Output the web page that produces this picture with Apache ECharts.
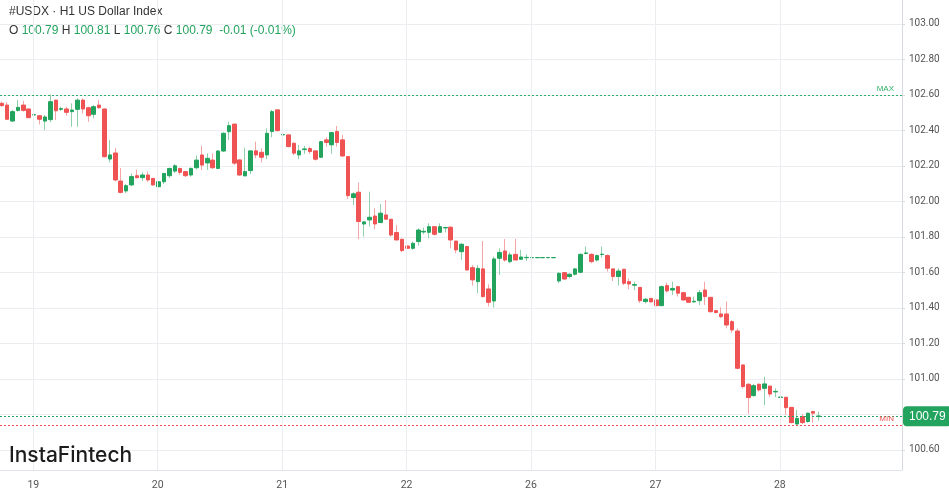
<!DOCTYPE html>
<html><head><meta charset="utf-8">
<script src="https://cdn.jsdelivr.net/npm/echarts@6/dist/echarts.min.js"></script>
<style>html,body{margin:0;padding:0;background:#fff}#c{width:949px;height:494px}</style>
</head><body><div id="c"></div>
<script>
// ---- data (H1 candles, index = hour slot) ----
const opens = [102.553,102.543,102.453,102.513,102.543,102.521,102.487,102.483,102.453,102.461,
102.571,102.519,102.521,102.506,102.519,102.571,102.528,102.491,102.543,102.521,
102.239,102.273,102.115,102.059,102.093,102.145,102.134,102.149,102.130,102.083,
102.111,102.145,102.171,102.186,102.168,102.149,102.190,102.262,102.217,102.233,
102.186,102.284,102.393,102.436,102.234,102.144,102.174,102.285,102.277,102.262,
102.394,102.516,102.375,102.375,102.328,102.262,102.292,102.298,102.285,102.249,
102.347,102.319,102.394,102.347,102.253,102.022,102.052,101.873,101.896,101.918,
101.881,101.924,101.900,101.825,101.787,101.749,101.736,101.774,101.828,101.826,
101.858,101.826,101.851,101.855,101.777,101.717,101.746,101.627,101.548,101.620,
101.507,101.439,101.680,101.721,101.661,101.702,101.674,101.683,101.683,101.683,
101.683,101.683,101.683,101.552,101.599,101.577,101.590,101.601,101.707,101.702,
101.670,101.701,101.695,101.620,101.577,101.618,101.548,101.528,101.516,101.436,
101.454,101.445,101.413,101.526,101.501,101.520,101.486,101.460,101.434,101.441,
101.501,101.460,101.385,101.366,101.366,101.323,101.270,101.079,100.970,100.906,
100.970,100.947,100.960,100.927,100.896,100.897,100.840,100.746,100.788,100.760,
100.816,100.789];
const closes = [102.540,102.463,102.506,102.530,102.513,102.472,102.489,102.463,102.476,102.562,
102.511,102.523,102.502,102.515,102.571,102.521,102.483,102.534,102.528,102.252,
102.262,102.121,102.051,102.089,102.140,102.134,102.149,102.121,102.093,102.111,
102.158,102.186,102.201,102.164,102.145,102.186,102.233,102.205,102.243,102.190,
102.284,102.384,102.427,102.216,102.149,102.168,102.285,102.262,102.249,102.384,
102.506,102.399,102.377,102.309,102.272,102.285,102.296,102.281,102.238,102.337,
102.332,102.388,102.332,102.256,102.033,102.043,101.887,101.885,101.911,101.873,
101.934,101.900,101.811,101.783,101.723,101.736,101.764,101.839,101.832,101.858,
101.815,101.858,101.853,101.783,101.727,101.759,101.614,101.558,101.623,101.464,
101.432,101.676,101.713,101.670,101.699,101.670,101.687,101.685,101.684,101.684,
101.684,101.684,101.684,101.595,101.563,101.590,101.620,101.702,101.710,101.661,
101.695,101.703,101.624,101.577,101.608,101.539,101.535,101.532,101.441,101.449,
101.434,101.413,101.520,101.496,101.510,101.483,101.445,101.432,101.438,101.486,
101.464,101.379,101.374,101.351,101.304,101.276,101.060,100.957,100.895,100.962,
100.938,100.972,100.915,100.930,100.898,100.838,100.754,100.778,100.754,100.807,
100.807,100.791];
const lows = [102.534,102.460,102.449,102.506,102.506,102.470,102.485,102.434,102.402,102.446,
102.459,102.510,102.483,102.421,102.421,102.496,102.449,102.468,102.524,102.248,
102.220,102.113,102.045,102.046,102.087,102.130,102.115,102.110,102.088,102.080,
102.098,102.132,102.160,102.150,102.138,102.140,102.180,102.177,102.177,102.183,
102.183,102.280,102.346,102.205,102.144,102.144,102.155,102.243,102.219,102.238,
102.362,102.394,102.362,102.305,102.262,102.238,102.268,102.268,102.230,102.245,
102.309,102.268,102.309,102.253,102.014,101.980,101.787,101.802,101.858,101.843,
101.881,101.900,101.802,101.783,101.716,101.732,101.727,101.751,101.815,101.793,
101.808,101.826,101.826,101.736,101.708,101.670,101.610,101.526,101.483,101.458,
101.408,101.402,101.586,101.661,101.652,101.670,101.670,101.665,101.683,101.683,
101.683,101.683,101.683,101.539,101.558,101.567,101.582,101.595,101.702,101.652,
101.661,101.684,101.605,101.552,101.526,101.529,101.505,101.500,101.428,101.426,
101.432,101.410,101.410,101.486,101.473,101.464,101.440,101.428,101.430,101.417,
101.417,101.374,101.370,101.342,101.285,101.261,101.054,100.947,100.803,100.900,
100.929,100.853,100.900,100.897,100.853,100.797,100.750,100.741,100.746,100.754,
100.754,100.765];
const highs = [102.562,102.560,102.515,102.571,102.566,102.523,102.492,102.485,102.487,102.603,
102.573,102.534,102.534,102.553,102.581,102.581,102.534,102.543,102.571,102.523,
102.346,102.301,102.188,102.098,102.158,102.180,102.164,102.170,102.132,102.113,
102.160,102.190,102.210,102.190,102.170,102.192,102.260,102.314,102.271,102.271,
102.290,102.390,102.449,102.438,102.236,102.303,102.285,102.337,102.300,102.412,
102.516,102.518,102.380,102.377,102.332,102.318,102.313,102.309,102.285,102.341,
102.362,102.392,102.425,102.375,102.253,102.052,102.106,101.887,102.055,101.962,
101.986,102.008,101.900,101.868,101.790,101.752,101.774,101.849,101.853,101.877,
101.860,101.877,101.858,101.860,101.777,101.764,101.750,101.642,101.642,101.777,
101.533,101.689,101.736,101.789,101.714,101.789,101.727,101.702,101.684,101.684,
101.684,101.684,101.684,101.601,101.599,101.595,101.623,101.708,101.746,101.708,
101.702,101.746,101.702,101.620,101.623,101.618,101.567,101.548,101.516,101.456,
101.456,101.447,101.526,101.543,101.548,101.523,101.490,101.462,101.464,101.501,
101.548,101.460,101.387,101.404,101.436,101.332,101.285,101.079,100.976,100.972,
100.976,101.013,100.960,100.947,100.900,100.897,100.840,100.825,100.803,100.810,
100.821,100.816];

const dayLabels = ['19','20','21','22','26','27','28'];
const dayPositions = [5.84, 28.84, 51.84, 74.84, 97.84, 120.84, 143.84];
const priceTicks = [100.6,100.8,101.0,101.2,101.4,101.6,101.8,102.0,102.2,102.4,102.6,102.8,103.0];
const priceLabelTicks = [100.6,101.0,101.2,101.4,101.6,101.8,102.0,102.2,102.4,102.6,102.8,103.0];

const headerTitle = '#USDX \u00b7 H1 US Dollar Index';
const headerKeys = ['O','H','L','C'];
const headerValues = ['100.79','100.81','100.76','100.79'];
const headerChange = '-0.01 (-0.01%)';
const lastPrice = 100.79;
const logoText = 'InstaFintech';

// ---- styles ----
const UP = '#22a35e', DOWN = '#f05353', UPW = '#8fd0aa', DOWNW = '#f5a5a5';
const GRID = '#ebedf0';
const AXISFONT = 'Roboto, "Liberation Sans", sans-serif';

const wickData = opens.map((o, i) => [i, o, closes[i], lows[i], highs[i]]);
const bodyData = opens.map((o, i) => [i, o, closes[i], Math.min(o, closes[i]), Math.max(o, closes[i])]);
const maxHigh = Math.max(...highs);
const minLow = Math.min(...lows);

let rich = '';
headerKeys.forEach((k, i) => { rich += '{k|' + k + '} {v|' + headerValues[i] + '} '; });
rich += ' {v|' + headerChange + '}';

function refLine(name, value, color, labelText, z) {
  return {
    type: 'line', name: name, data: [], z: z, silent: true, color: color,
    markLine: {
      silent: true, symbol: ['none', 'none'], animation: false,
      lineStyle: {color: color, type: [2, 2], width: 1, opacity: 1},
      label: {show: true, formatter: labelText, position: 'insideEndTop', color: color, fontSize: 8, distance: [8, 2]},
      data: [{yAxis: value}]
    }
  };
}

const chart = echarts.init(document.getElementById('c'), null, {renderer: 'canvas'});
chart.setOption({
  animation: false,
  backgroundColor: '#fff',
  grid: {left: 0, right: 47, top: 0, bottom: 24},
  xAxis: {
    type: 'value', min: -0.314, max: 166.42,
    axisLine: {show: true, onZero: false, lineStyle: {color: '#dfe2e6'}},
    axisTick: {show: false, customValues: dayPositions},
    axisLabel: {customValues: dayPositions, margin: 10, color: '#555', fontSize: 10.5,
      fontFamily: AXISFONT,
      formatter: v => { const k = dayPositions.findIndex(p => Math.abs(p - v) < 0.01); return k >= 0 ? dayLabels[k] : ''; }},
    splitLine: {show: false}
  },
  yAxis: {
    type: 'value', position: 'right', min: 100.487, max: 103.135, scale: true,
    axisLine: {show: true, onZero: false, lineStyle: {color: '#d6dade'}},
    axisTick: {show: true, length: 3, lineStyle: {color: '#d6dade'}, customValues: priceTicks},
    axisLabel: {customValues: priceLabelTicks, margin: 7, color: '#555', fontSize: 10,
      fontFamily: AXISFONT,
      formatter: v => v.toFixed(2)},
    splitLine: {show: true, lineStyle: {color: GRID}}
  },
  graphic: [
    {type: 'text', left: 9, top: 6, style: {text: headerTitle, font: '12px "Liberation Sans", Arial, sans-serif', fill: '#333'}},
    {type: 'text', left: 9, top: 25, style: {text: rich, font: '12px "Liberation Sans", Arial, sans-serif',
      rich: {k: {fill: '#333', fontSize: 12, fontFamily: '"Liberation Sans", Arial, sans-serif'},
             v: {fill: '#22a35e', fontSize: 12, fontFamily: '"Liberation Sans", Arial, sans-serif'}}}},
    {type: 'text', left: 9, top: 445, z: 10, style: {text: logoText, font: '500 21px Inter, "Open Sans", sans-serif', fill: '#1b1b1b'}}
  ],
  series: [
    {
      type: 'line', name: 'grid', data: [], z: 0, silent: true,
      markLine: {
        silent: true, symbol: ['none', 'none'], animation: false, label: {show: false},
        lineStyle: {color: GRID, type: 'solid', width: 1},
        data: dayPositions.map(p => ({xAxis: p}))
      }
    },
    refLine('maxLine', maxHigh, '#2fae69', 'MAX', 1),
    refLine('minLine', minLow, '#f05353', 'MIN', 1),
    {
      type: 'candlestick', name: 'wick', data: wickData, encode: {x: 0, y: [1, 2, 3, 4]},
      barWidth: 1,
      itemStyle: {color: UPW, color0: DOWNW, borderColor: UPW, borderColor0: DOWNW, borderWidth: 1},
      markLine: {
        silent: true, symbol: ['none', 'none'], animation: false,
        data: [
          {yAxis: lastPrice, lineStyle: {color: '#22a35e', type: [2, 2], width: 1},
           label: {show: true, formatter: lastPrice.toFixed(2), position: 'end', distance: 1,
             backgroundColor: '#22a35e', color: '#fff', borderRadius: 4, padding: [4, 6], fontSize: 12,
             fontFamily: '"Liberation Sans", Arial, sans-serif'}}
        ]
      }
    },
    {
      type: 'candlestick', name: 'body', data: bodyData, encode: {x: 0, y: [1, 2, 3, 4]},
      barWidth: 4,
      itemStyle: {color: UP, color0: DOWN, borderColor: UP, borderColor0: DOWN, borderWidth: 1}
    }
  ]
});
</script></body></html>
